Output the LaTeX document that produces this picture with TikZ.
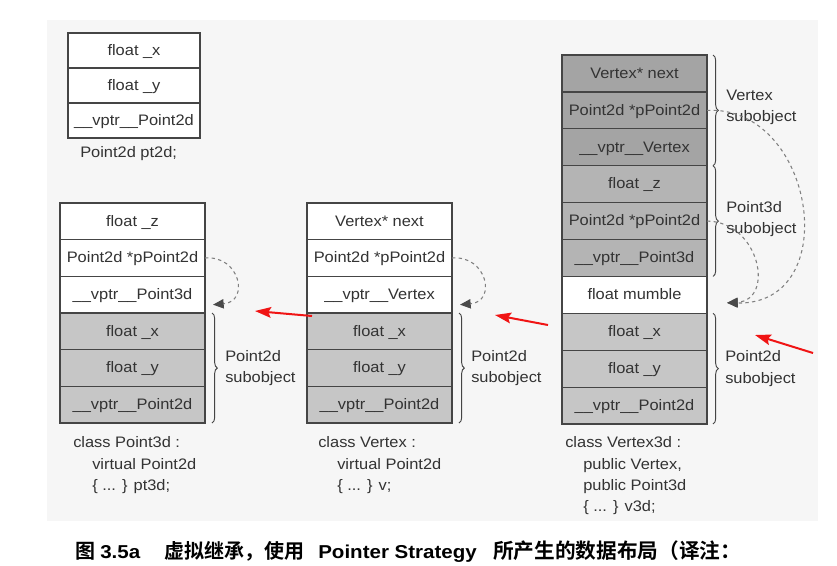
\documentclass[tikz,border=0pt]{standalone}
\usepackage{fontspec}
\setmainfont{Liberation Sans}[FakeStretch=1.08]
\newfontfamily\capb{Liberation Sans Bold}[FakeStretch=1.1]
\newfontfamily\cjk{Noto Sans CJK SC}[BoldFont={Noto Sans CJK SC Bold}]
\usetikzlibrary{arrows.meta,decorations.pathreplacing,calc}

\definecolor{bgpanel}{HTML}{F6F6F6}
\definecolor{ink}{HTML}{333333}
\definecolor{edge}{HTML}{454545}
\definecolor{gLight}{HTML}{C6C6C6}
\definecolor{gMid}{HTML}{B4B4B4}
\definecolor{gDark}{HTML}{A4A4A4}
\definecolor{dashc}{HTML}{808080}
\definecolor{tipc}{HTML}{4A4A4A}
\definecolor{redarrow}{HTML}{F01414}

\begin{document}
\begin{tikzpicture}[x=0.75pt,y=-0.75pt,
  txt/.style={text=ink,font=\fontsize{11.4}{16}\selectfont,inner sep=0pt},
  cell/.style={txt,draw=edge,line width=0.9pt,fill=white,minimum width=108.75pt,
    minimum height=27.5pt,outer sep=0pt,text height=0.75em,text depth=0.03em},
  cellS/.style={cell,minimum width=99pt,minimum height=26.25pt},
  cellR/.style={cell,minimum height=27.675pt},
  light/.style={fill=gLight},
  mid/.style={fill=gMid},
  dark/.style={fill=gDark},
  brc/.style={decorate,decoration={brace,amplitude=4pt},draw=edge,line width=0.7pt},
  lbl/.style={txt,align=left,anchor=west},
  capt/.style={txt,align=left,anchor=north west},
  ptr/.style={draw=dashc,line width=0.8pt,dash pattern=on 2.5pt off 2.5pt,
    -{Triangle[length=8pt,width=7pt,color=tipc]}},
  redarr/.style={draw=redarrow,line width=1.5pt,-{Stealth[length=12pt,width=8pt,inset=2pt,color=redarrow]}},
  fig/.style={anchor=base west,inner sep=0pt,text=black}
]
\fill[white] (0,0) rectangle (837,565);
\useasboundingbox (0,0) rectangle (837,565);
\fill[bgpanel] (47,20) rectangle (818,521);

% Point2d pt2d
\node[cellS] (p1) at (134,50.5) {float \_x};
\node[cellS] (p2) at (134,85.5) {float \_y};
\node[cellS] (p3) at (134,120.5) {\_\_vptr\_\_Point2d};
\node[txt,anchor=west,text height=0.75em,text depth=0.03em] (pcap) at (80,153) {Point2d pt2d;};

% Point3d
\node[cell] (a1) at (132.5,221.33) {float \_z};
\node[cell] (a2) at (132.5,258) {Point2d *pPoint2d};
\node[cell] (a3) at (132.5,294.67) {\_\_vptr\_\_Point3d};
\node[cell,light] (a4) at (132.5,331.33) {float \_x};
\node[cell,light] (a5) at (132.5,368) {float \_y};
\node[cell,light] (a6) at (132.5,404.67) {\_\_vptr\_\_Point2d};
\draw[brc] ($(a4.north east)+(7,0)$) -- ($(a6.south east)+(7,0)$);
\node[lbl] (alb) at ($(a5.east)+(20,0)$) {Point2d\\subobject};
\node[capt] (acap) at (73,436.5) {class Point3d :\\\hspace*{14.25pt}virtual Point2d\\\hspace*{14.25pt}\{ ... \} pt3d;};
\draw[ptr] (a2.east) .. controls +(35,-3) and +(37,-3) .. ($(a3.east)+(8,10)$);

% Vertex
\node[cell] (b1) at (379.5,221.33) {Vertex* next};
\node[cell] (b2) at (379.5,258) {Point2d *pPoint2d};
\node[cell] (b3) at (379.5,294.67) {\_\_vptr\_\_Vertex};
\node[cell,light] (b4) at (379.5,331.33) {float \_x};
\node[cell,light] (b5) at (379.5,368) {float \_y};
\node[cell,light] (b6) at (379.5,404.67) {\_\_vptr\_\_Point2d};
\draw[brc] ($(b4.north east)+(7,0)$) -- ($(b6.south east)+(7,0)$);
\node[lbl] (blb) at ($(b5.east)+(19,0)$) {Point2d\\subobject};
\node[capt] (bcap) at (318,436.5) {class Vertex :\\\hspace*{14.25pt}virtual Point2d\\\hspace*{14.25pt}\{ ... \} v;};
\draw[ptr] (b2.east) .. controls +(35,-3) and +(37,-3) .. ($(b3.east)+(8,10)$);

% Vertex3d
\node[cellR,dark] (r1) at (634.5,73.45) {Vertex* next};
\node[cellR,dark] (r2) at (634.5,110.35) {Point2d *pPoint2d};
\node[cellR,dark] (r3) at (634.5,147.25) {\_\_vptr\_\_Vertex};
\node[cellR,mid] (r4) at (634.5,184.15) {float \_z};
\node[cellR,mid] (r5) at (634.5,221.05) {Point2d *pPoint2d};
\node[cellR,mid] (r6) at (634.5,257.95) {\_\_vptr\_\_Point3d};
\node[cellR] (r7) at (634.5,294.85) {float mumble};
\node[cellR,light] (r8) at (634.5,331.75) {float \_x};
\node[cellR,light] (r9) at (634.5,368.65) {float \_y};
\node[cellR,light] (r10) at (634.5,405.55) {\_\_vptr\_\_Point2d};
\draw[brc] ($(r1.north east)+(6,0)$) -- ($(r3.south east)+(6,0)$);
\draw[brc] ($(r4.north east)+(6,0)$) -- ($(r6.south east)+(6,0)$);
\draw[brc] ($(r8.north east)+(6,0)$) -- ($(r10.south east)+(6,0)$);
\node[lbl] (rlb1) at ($(r2.east)+(19,-3)$) {Vertex\\subobject};
\node[lbl] (rlb2) at ($(r5.east)+(19,-2)$) {Point3d\\subobject};
\node[lbl] (rlb3) at ($(r9.east)+(18,0)$) {Point2d\\subobject};
\node[capt] (rcap) at (565,436.5) {class Vertex3d :\\\hspace*{13.5pt}public Vertex,\\\hspace*{13.5pt}public Point3d\\\hspace*{13.5pt}\{ ... \} v3d;};
\coordinate (rt) at ($(r7.east)+(20,8)$);
\draw[ptr] (r2.east) .. controls (815,105) and (845,305) .. (rt);
\draw[ptr] (r5.east) .. controls (760,222) and (775,300) .. (rt);

% red arrows
\coordinate (ra1) at (312,316); \coordinate (ra2) at (255,311);
\coordinate (rb1) at (548,325); \coordinate (rb2) at (495,315);
\coordinate (rc1) at (813,353); \coordinate (rc2) at (755,335);
\draw[redarr] (ra1) -- (ra2);
\draw[redarr] (rb1) -- (rb2);
\draw[redarr] (rc1) -- (rc2);

% caption
\node[fig] (f1) at (75,558) {\fontsize{15}{17}\selectfont\cjk\bfseries 图};
\node[fig] (f2) at (100,558) {\fontsize{14}{17}\selectfont\capb 3.5a};
\node[fig] (f3) at (164,558) {\fontsize{15}{17}\selectfont\cjk\bfseries 虚拟继承，使用};
\node[fig] (f4) at (318,558) {\fontsize{14}{17}\selectfont\capb Pointer Strategy};
\node[fig] (f5) at (493,558) {\fontsize{15.5}{17}\selectfont\cjk\bfseries 所产生的数据布局（译注：};
\end{tikzpicture}
\end{document}
